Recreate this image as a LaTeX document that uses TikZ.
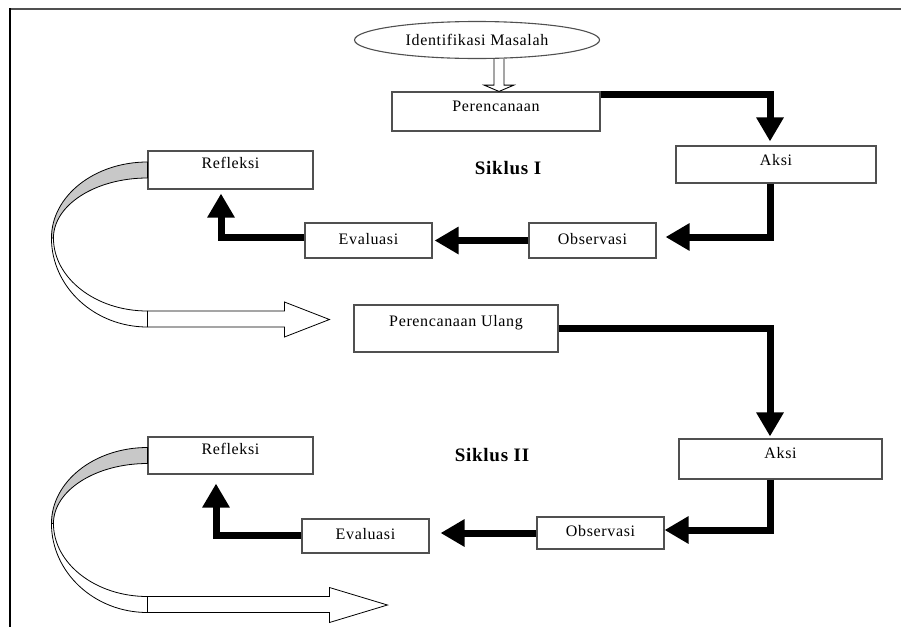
\documentclass[tikz,border=0pt]{standalone}
\usepackage{fontspec}
\setmainfont{Liberation Serif}[LetterSpace=4]
\usetikzlibrary{arrows.meta,shapes.geometric}
\definecolor{boxline}{HTML}{505050}
\definecolor{ribbongray}{HTML}{C8C8C8}
\tikzset{
  stepbox/.style={draw=boxline, line width=1.1pt, fill=white, inner sep=0pt,
    font=\fontsize{16}{19}\selectfont, text height=11pt, text depth=#1},
  stepbox/.default=4pt,
  cyclelabel/.style={font=\fontsize{19}{22}\selectfont\bfseries, inner sep=0pt},
  conn/.style={line width=7pt, -{Triangle[length=24pt,width=26pt]}},
  ribbonline/.style={draw=black, line width=0.8pt},
}
\newcommand{\ribbonarrow}[3]{%
  \begin{scope}[shift={(#1.west)}]
    \filldraw[ribbonline, fill=ribbongray] (0,-8) .. controls (-53,-8) and (-96,26) .. (-96,68)
      -- (-94,68) .. controls (-94,35) and (-52,8) .. (0,8) -- cycle;
    \draw[ribbonline] (-96,68) .. controls (-96,117) and (-53,157) .. (0,157);
    \draw[ribbonline] (-94,68) .. controls (-94,108) and (-52,141) .. (0,141);
    \draw[ribbonline, fill=white] (0,141) -- (#2,141) -- (#2,132) -- (#3,149.5) -- (#2,167) -- (#2,157) -- (0,157) -- cycle;
  \end{scope}}
\begin{document}
\begin{tikzpicture}[x=1pt,y=-1pt]
\useasboundingbox (0,0) rectangle (901,627);
% frame
\draw[line width=2.5pt, color=boxline] (9,9) -- (901,9);
\draw[line width=1.5pt, color=black] (10,8) -- (10,627);

% nodes
\node[ellipse, draw=boxline, line width=1.1pt, minimum width=245pt, minimum height=37pt,
      inner sep=0pt, font=\fontsize{16}{19}\selectfont] (ident) at (477,40) {Identifikasi Masalah};
\node[stepbox=11pt, minimum width=208pt, minimum height=39pt] (per) at (496,111.5) {Perencanaan};
\node[stepbox=9pt, minimum width=200pt, minimum height=37pt] (aksi1) at (776,164.5) {Aksi};
\node[stepbox, minimum width=127pt, minimum height=35pt] (obs1) at (592.5,240.5) {Observasi};
\node[stepbox, minimum width=127pt, minimum height=35pt] (eva1) at (368.5,240.5) {Evaluasi};
\node[stepbox=14pt, minimum width=165pt, minimum height=38pt] (ref1) at (230.5,170) {Refleksi};
\node[cyclelabel] (sik1) at (508,168) {Siklus I};

\node[stepbox=16pt, minimum width=204pt, minimum height=47pt] (pu) at (456,328.5) {Perencanaan Ulang};
\node[stepbox=12pt, minimum width=203pt, minimum height=40pt] (aksi2) at (780.5,459) {Aksi};
\node[stepbox, minimum width=127pt, minimum height=32pt] (obs2) at (600.5,533) {Observasi};
\node[stepbox, minimum width=127pt, minimum height=34pt] (eva2) at (365.5,536) {Evaluasi};
\node[stepbox=13pt, minimum width=165pt, minimum height=37pt] (ref2) at (230.5,455.5) {Refleksi};
\node[cyclelabel] (sik2) at (492,455) {Siklus II};

% hollow arrow from ident to per
\draw[line width=0.9pt, fill=white, line join=miter]
  ([xshift=17pt]ident.south) -- ([xshift=17pt,yshift=-26pt]ident.south)
  -- ([xshift=7pt,yshift=-26pt]ident.south) -- ([xshift=3pt]per.north)
  -- ([xshift=37pt,yshift=-26pt]ident.south) -- ([xshift=27pt,yshift=-26pt]ident.south)
  -- ([xshift=27pt]ident.south);

% cycle I connectors
\draw[conn, shorten >=4pt] ([yshift=-3pt]per.north east) -| ([xshift=-6pt]aksi1.north);
\draw[conn, shorten >=9pt] ([xshift=-6pt]aksi1.south) |- ([yshift=3.5pt]obs1.east);
\draw[conn, shorten >=2pt] (obs1.west) -- (eva1.east);
\draw[conn, shorten >=4pt] ([yshift=3.5pt]eva1.west) -| ([xshift=-9.5pt]ref1.south);
\ribbonarrow{ref1}{137}{182}

% cycle II connectors
\draw[conn, shorten >=2pt] (pu.east) -| ([xshift=-10.5pt]aksi2.north);
\draw[conn] ([xshift=-10.5pt]aksi2.south) |- ([yshift=3pt]obs2.east);
\draw[conn, shorten >=11pt] (obs2.west) -- (obs2.west -| eva2.east);
\draw[conn, shorten >=9pt] ([yshift=1pt]eva2.west) -| ([xshift=-14.5pt]ref2.south);
\ribbonarrow{ref2}{182}{240}
\end{tikzpicture}
\end{document}
